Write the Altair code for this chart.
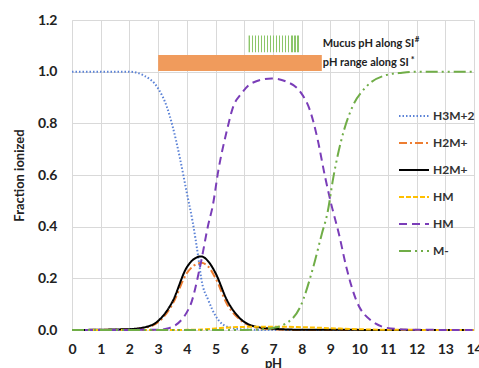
import altair as alt
import pandas as pd

# Species distribution curves (pH, fraction)
ph_h3m = [0, 1, 2, 2.5, 3, 3.3, 3.5, 3.75, 4, 4.2, 4.4, 4.5, 4.75, 5, 5.4, 6, 7, 14]
fr_h3m = [1, 1, 1, 0.985, 0.935, 0.865, 0.79, 0.67, 0.53, 0.42, 0.28, 0.2, 0.115, 0.055, 0.013, 0.002, 0, 0]

ph_h2m_a = [0, 1.9, 2.5, 3.0, 3.5, 4.0, 4.25, 4.5, 4.75, 5.0, 5.4, 5.85, 6.4, 7, 8, 14]
fr_h2m_a = [0, 0.002, 0.008, 0.03, 0.1, 0.22, 0.25, 0.26, 0.245, 0.2, 0.1, 0.04, 0.01, 0.003, 0, 0]

ph_h2m_b = [0, 1.9, 2.5, 3.0, 3.5, 4.0, 4.25, 4.5, 4.75, 5.0, 5.4, 5.85, 6.4, 7, 8, 14]
fr_h2m_b = [0, 0.003, 0.01, 0.035, 0.11, 0.243, 0.275, 0.285, 0.265, 0.22, 0.115, 0.045, 0.013, 0.005, 0.001, 0]

ph_hm_a = [0, 4, 4.5, 5, 5.5, 6, 7, 8, 9, 10, 11, 14]
fr_hm_a = [0, 0.0005, 0.002, 0.006, 0.01, 0.012, 0.013, 0.011, 0.007, 0.003, 0.001, 0]

ph_hm_b = [0, 3, 3.4, 4.1, 4.45, 4.75, 4.9, 5.1, 5.4, 5.6, 5.9, 6.25, 6.95, 7.5, 7.95,
           8.3, 8.55, 8.8, 9.0, 9.3, 9.55, 9.9, 10.4, 11.1, 12, 14]
fr_hm_b = [0, 0.001, 0.008, 0.09, 0.24, 0.41, 0.48, 0.62, 0.775, 0.86, 0.915, 0.955, 0.974, 0.96, 0.922,
           0.846, 0.74, 0.6, 0.5, 0.37, 0.245, 0.115, 0.038, 0.006, 0.001, 0]

ph_m = [0, 6, 6.5, 7, 7.35, 7.95, 8.4, 8.7, 8.9, 9.1, 9.4, 9.75, 10.25, 10.95, 11.5, 12, 14]
fr_m = [0, 0, 0.002, 0.008, 0.019, 0.09, 0.243, 0.372, 0.455, 0.59, 0.744, 0.86, 0.942, 0.987, 0.996, 1, 1]

series_keys = ["s1", "s2", "s3", "s4", "s5", "s6"]
series_labels = ["H3M+2", "H2M+", "H2M+", "HM", "HM", "M-"]
series_colors = ["#5B82D6", "#ED7D31", "#000000", "#FFC000", "#7A3DB8", "#70AD47"]
series_dashes = [[1.5, 2], [8, 3, 2, 3], [1, 0], [5, 2], [8, 5], [12, 4, 2, 4, 2, 4]]

# pH ranges shown as bars above the curves
range_names = ["Mucus pH along SI", "pH range along SI"]
range_marks = ["#", "*"]
range_lo = [6.15, 3.0]
range_hi = [7.95, 8.7]
range_y0 = [1.075, 1.003]
range_y1 = [1.14, 1.065]

x_ticks = list(range(15))
y_ticks = [0, 0.2, 0.4, 0.6, 0.8, 1.0, 1.2]

curves = [(ph_h3m, fr_h3m), (ph_h2m_a, fr_h2m_a), (ph_h2m_b, fr_h2m_b),
          (ph_hm_a, fr_hm_a), (ph_hm_b, fr_hm_b), (ph_m, fr_m)]
rows = []
for k, (xs, ys) in zip(series_keys, curves):
    for x, y in zip(xs, ys):
        rows.append({"pH": x, "frac": y, "key": k})
df = pd.DataFrame(rows)

FONT = "Lato"
label_expr = " : ".join(
    f"datum.value == '{k}' ? '{l}'" for k, l in zip(series_keys, series_labels)
) + " : ''"

x_scale = alt.Scale(domain=[0, 14], nice=False)
y_scale = alt.Scale(domain=[0, 1.2], nice=False)

legend = alt.Legend(
    title=None, orient="none", legendX=326, legendY=80,
    symbolType="stroke", symbolSize=900, symbolStrokeWidth=2,
    labelExpr=label_expr, labelFont=FONT, labelFontWeight="bold",
    labelFontSize=12, labelColor="#333333", labelOffset=3,
    rowPadding=5,
)

x_axis = alt.Axis(title="pH", values=x_ticks, format="d", labelOverlap=False)
y_axis = alt.Axis(title="Fraction ionized", values=y_ticks, format=".1f")

lines = alt.Chart(df).mark_line(strokeWidth=2, interpolate="monotone").encode(
    x=alt.X("pH:Q", scale=x_scale, axis=x_axis),
    y=alt.Y("frac:Q", scale=y_scale, axis=y_axis),
    color=alt.Color("key:N", scale=alt.Scale(domain=series_keys, range=series_colors), legend=legend),
    strokeDash=alt.StrokeDash("key:N", scale=alt.Scale(domain=series_keys, range=series_dashes),
                              legend=legend),
)

ranges = pd.DataFrame({"name": range_names, "mark": range_marks, "lo": range_lo, "hi": range_hi,
                       "y0": range_y0, "y1": range_y1})

# vertical hatching for the mucus bar
stops = []
n = 17
for i in range(n):
    a = i / n
    b = (i + 0.45) / n
    c = (i + 1) / n
    stops += [alt.GradientStop(offset=a, color="#8CC66A"), alt.GradientStop(offset=b, color="#8CC66A"),
              alt.GradientStop(offset=b, color="#ffffff"), alt.GradientStop(offset=c, color="#ffffff")]
hatch = alt.Gradient(gradient="linear", stops=stops, x1=0, x2=1, y1=0, y2=0)

mucus_bar = alt.Chart(ranges.iloc[[0]]).mark_rect(fill=hatch).encode(
    x=alt.X("lo:Q", axis=x_axis), x2="hi:Q", y=alt.Y("y0:Q", axis=y_axis), y2="y1:Q")
range_bar = alt.Chart(ranges.iloc[[1]]).mark_rect(fill="#F09B5C").encode(
    x=alt.X("lo:Q", axis=x_axis), x2="hi:Q", y=alt.Y("y0:Q", axis=y_axis), y2="y1:Q")

text_style = dict(align="left", baseline="middle", font=FONT, fontWeight="bold", color="#222222")

range_text = alt.Chart(ranges).mark_text(fontSize=11, dx=1, **text_style).transform_calculate(
    yc="(datum.y0 + datum.y1) / 2", xt="8.7"
).encode(x=alt.X("xt:Q", axis=x_axis), y=alt.Y("yc:Q", axis=y_axis), text="name:N")

sup_mucus = alt.Chart(ranges.iloc[[0]]).mark_text(fontSize=8, dx=93, dy=-4, **text_style).transform_calculate(
    yc="(datum.y0 + datum.y1) / 2", xt="8.7"
).encode(x=alt.X("xt:Q", axis=x_axis), y=alt.Y("yc:Q", axis=y_axis), text="mark:N")
sup_range = alt.Chart(ranges.iloc[[1]]).mark_text(fontSize=9, dx=89, dy=-3, **text_style).transform_calculate(
    yc="(datum.y0 + datum.y1) / 2", xt="8.7"
).encode(x=alt.X("xt:Q", axis=x_axis), y=alt.Y("yc:Q", axis=y_axis), text="mark:N")

chart = alt.layer(lines, range_bar, mucus_bar, range_text, sup_mucus, sup_range).properties(
    width=402, height=310,
    autosize=alt.AutoSizeParams(type="none"),
    padding={"left": 72, "top": 20, "right": 5, "bottom": 38},
    background="white",
).configure_view(stroke=None).configure_axis(
    gridColor="#D9D9D9", gridWidth=1, domainColor="#D9D9D9", ticks=False,
    labelFont=FONT, labelFontWeight="bold", labelFontSize=14, labelColor="#222222",
    titleFont=FONT, titleFontWeight="bold", titleFontSize=13, titleColor="#222222",
).configure_axisX(labelPadding=12, titlePadding=1, labelFlush=False, labelOverlap=False,
                  labelBound=False).configure_axisY(labelPadding=15, titlePadding=11)

chart.save("out.html", embed_options={"renderer": "svg", "actions": False})
